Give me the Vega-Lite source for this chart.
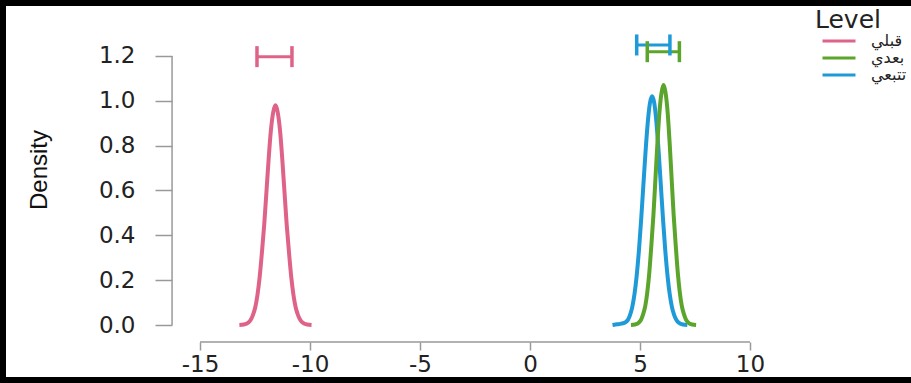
{
  "$schema": "https://vega.github.io/schema/vega-lite/v6.json",
  "width": 905,
  "height": 371,
  "autosize": {"type": "none"},
  "padding": {"left": 6, "top": 6, "right": 0, "bottom": 6},
  "background": "black",
  "config": {"view": {"fill": "white", "stroke": null}, "font": "DejaVu Sans"},
  "datasets": {
    "curves": [
      {"level": "قبلي", "x": -13.21, "density": 0.000},
      {"level": "قبلي", "x": -13.01, "density": 0.002},
      {"level": "قبلي", "x": -12.80, "density": 0.011},
      {"level": "قبلي", "x": -12.70, "density": 0.022},
      {"level": "قبلي", "x": -12.60, "density": 0.043},
      {"level": "قبلي", "x": -12.49, "density": 0.078},
      {"level": "قبلي", "x": -12.39, "density": 0.133},
      {"level": "قبلي", "x": -12.29, "density": 0.212},
      {"level": "قبلي", "x": -12.19, "density": 0.318},
      {"level": "قبلي", "x": -12.08, "density": 0.449},
      {"level": "قبلي", "x": -11.98, "density": 0.594},
      {"level": "قبلي", "x": -11.88, "density": 0.740},
      {"level": "قبلي", "x": -11.78, "density": 0.865},
      {"level": "قبلي", "x": -11.67, "density": 0.950},
      {"level": "قبلي", "x": -11.57, "density": 0.980},
      {"level": "قبلي", "x": -11.47, "density": 0.950},
      {"level": "قبلي", "x": -11.36, "density": 0.865},
      {"level": "قبلي", "x": -11.26, "density": 0.740},
      {"level": "قبلي", "x": -11.16, "density": 0.594},
      {"level": "قبلي", "x": -11.06, "density": 0.449},
      {"level": "قبلي", "x": -10.95, "density": 0.318},
      {"level": "قبلي", "x": -10.85, "density": 0.212},
      {"level": "قبلي", "x": -10.75, "density": 0.133},
      {"level": "قبلي", "x": -10.65, "density": 0.078},
      {"level": "قبلي", "x": -10.54, "density": 0.043},
      {"level": "قبلي", "x": -10.44, "density": 0.022},
      {"level": "قبلي", "x": -10.34, "density": 0.011},
      {"level": "قبلي", "x": -10.13, "density": 0.002},
      {"level": "قبلي", "x": -9.93, "density": 0.000},
      {"level": "تتبعي", "x": 3.75, "density": 0.000},
      {"level": "تتبعي", "x": 3.95, "density": 0.003},
      {"level": "تتبعي", "x": 4.15, "density": 0.006},
      {"level": "تتبعي", "x": 4.35, "density": 0.013},
      {"level": "تتبعي", "x": 4.45, "density": 0.023},
      {"level": "تتبعي", "x": 4.55, "density": 0.045},
      {"level": "تتبعي", "x": 4.65, "density": 0.081},
      {"level": "تتبعي", "x": 4.75, "density": 0.138},
      {"level": "تتبعي", "x": 4.85, "density": 0.221},
      {"level": "تتبعي", "x": 4.95, "density": 0.331},
      {"level": "تتبعي", "x": 5.05, "density": 0.467},
      {"level": "تتبعي", "x": 5.15, "density": 0.619},
      {"level": "تتبعي", "x": 5.25, "density": 0.770},
      {"level": "تتبعي", "x": 5.35, "density": 0.900},
      {"level": "تتبعي", "x": 5.45, "density": 0.989},
      {"level": "تتبعي", "x": 5.55, "density": 1.020},
      {"level": "تتبعي", "x": 5.65, "density": 0.989},
      {"level": "تتبعي", "x": 5.75, "density": 0.900},
      {"level": "تتبعي", "x": 5.85, "density": 0.770},
      {"level": "تتبعي", "x": 5.95, "density": 0.619},
      {"level": "تتبعي", "x": 6.05, "density": 0.467},
      {"level": "تتبعي", "x": 6.15, "density": 0.331},
      {"level": "تتبعي", "x": 6.25, "density": 0.221},
      {"level": "تتبعي", "x": 6.35, "density": 0.138},
      {"level": "تتبعي", "x": 6.45, "density": 0.081},
      {"level": "تتبعي", "x": 6.55, "density": 0.045},
      {"level": "تتبعي", "x": 6.65, "density": 0.023},
      {"level": "تتبعي", "x": 6.75, "density": 0.011},
      {"level": "تتبعي", "x": 6.95, "density": 0.002},
      {"level": "تتبعي", "x": 7.15, "density": 0.000},
      {"level": "بعدي", "x": 4.59, "density": 0.000},
      {"level": "بعدي", "x": 4.77, "density": 0.002},
      {"level": "بعدي", "x": 4.96, "density": 0.012},
      {"level": "بعدي", "x": 5.05, "density": 0.024},
      {"level": "بعدي", "x": 5.14, "density": 0.047},
      {"level": "بعدي", "x": 5.24, "density": 0.085},
      {"level": "بعدي", "x": 5.33, "density": 0.145},
      {"level": "بعدي", "x": 5.42, "density": 0.231},
      {"level": "بعدي", "x": 5.51, "density": 0.347},
      {"level": "بعدي", "x": 5.61, "density": 0.490},
      {"level": "بعدي", "x": 5.70, "density": 0.649},
      {"level": "بعدي", "x": 5.79, "density": 0.808},
      {"level": "بعدي", "x": 5.88, "density": 0.944},
      {"level": "بعدي", "x": 5.98, "density": 1.037},
      {"level": "بعدي", "x": 6.07, "density": 1.070},
      {"level": "بعدي", "x": 6.16, "density": 1.037},
      {"level": "بعدي", "x": 6.26, "density": 0.944},
      {"level": "بعدي", "x": 6.35, "density": 0.808},
      {"level": "بعدي", "x": 6.44, "density": 0.649},
      {"level": "بعدي", "x": 6.53, "density": 0.490},
      {"level": "بعدي", "x": 6.63, "density": 0.347},
      {"level": "بعدي", "x": 6.72, "density": 0.231},
      {"level": "بعدي", "x": 6.81, "density": 0.145},
      {"level": "بعدي", "x": 6.90, "density": 0.085},
      {"level": "بعدي", "x": 7.00, "density": 0.047},
      {"level": "بعدي", "x": 7.09, "density": 0.024},
      {"level": "بعدي", "x": 7.18, "density": 0.012},
      {"level": "بعدي", "x": 7.37, "density": 0.002},
      {"level": "بعدي", "x": 7.55, "density": 0.000}
    ],
    "intervals": [
      {"level": "قبلي", "lo": -12.41, "hi": -10.82, "y": 1.197},
      {"level": "تتبعي", "lo": 4.85, "hi": 6.36, "y": 1.249},
      {"level": "بعدي", "lo": 5.33, "hi": 6.79, "y": 1.219}
    ]
  },
  "layer": [
    {
      "data": {"name": "curves"},
      "mark": {"type": "line", "strokeWidth": 4, "interpolate": "monotone"},
      "encoding": {
        "x": {
          "field": "x", "type": "quantitative",
          "scale": {"domain": [-23.818, 17.318], "nice": false, "zero": false},
          "axis": {
            "values": [-15, -10, -5, 0, 5, 10],
            "labelExpr": "'' + datum.value",
            "domain": false, "grid": false, "offset": -35,
            "tickSize": 8, "tickColor": "#999999", "tickWidth": 1.5,
            "labelFont": "DejaVu Sans", "labelFontSize": 23, "labelColor": "#222222",
            "labelPadding": 3, "labelFlush": false, "labelOverlap": false,
            "title": ""
          }
        },
        "y": {
          "field": "density", "type": "quantitative",
          "scale": {"domain": [-0.2319, 1.4228], "nice": false, "zero": false},
          "axis": {
            "values": [0, 0.2, 0.4, 0.6, 0.8, 1.0, 1.2],
            "format": ".1f",
            "domain": false, "grid": false, "offset": -166,
            "tickSize": 17, "tickColor": "#999999", "tickWidth": 1.5,
            "labelFont": "DejaVu Sans", "labelFontSize": 23, "labelColor": "#222222",
            "labelPadding": 20, "labelFlush": false, "labelOverlap": false,
            "title": "Density",
            "titleFont": "Liberation Sans", "titleFontSize": 24, "titleFontWeight": "normal",
            "titleColor": "#111111", "titleAngle": -90, "titleAlign": "center",
            "titleBaseline": "alphabetic", "titleX": -126, "titleY": 163.5
          }
        },
        "color": {
          "field": "level", "type": "nominal",
          "scale": {"domain": ["قبلي", "بعدي", "تتبعي"], "range": ["#DF6388", "#5BA52C", "#1E9AD8"]},
          "legend": {
            "title": "Level", "orient": "none", "legendX": 809, "legendY": 2,
            "padding": 0,
            "titleFont": "DejaVu Sans", "titleFontSize": 25, "titleFontWeight": "normal",
            "titleColor": "#222222", "titlePadding": 0,
            "labelFont": "DejaVu Sans", "labelFontSize": 16, "labelColor": "#222222",
            "symbolType": "M-4,0H4", "symbolSize": 68, "symbolStrokeWidth": 3,
            "symbolOffset": 16, "labelOffset": 24, "rowPadding": 1
          }
        }
      }
    },
    {
      "data": {"name": "intervals"},
      "mark": {"type": "rule", "strokeWidth": 3},
      "encoding": {
        "x": {"field": "lo", "type": "quantitative", "scale": {"domain": [-23.818, 17.318], "nice": false, "zero": false}},
        "x2": {"field": "hi"},
        "y": {"field": "y", "type": "quantitative", "scale": {"domain": [-0.2319, 1.4228], "nice": false, "zero": false}},
        "color": {"field": "level", "type": "nominal", "scale": {"domain": ["قبلي", "بعدي", "تتبعي"], "range": ["#DF6388", "#5BA52C", "#1E9AD8"]}}
      }
    },
    {
      "data": {"name": "intervals"},
      "mark": {"type": "tick", "orient": "vertical", "thickness": 3.5, "size": 21, "opacity": 1},
      "encoding": {
        "x": {"field": "lo", "type": "quantitative", "scale": {"domain": [-23.818, 17.318], "nice": false, "zero": false}},
        "y": {"field": "y", "type": "quantitative", "scale": {"domain": [-0.2319, 1.4228], "nice": false, "zero": false}},
        "color": {"field": "level", "type": "nominal", "scale": {"domain": ["قبلي", "بعدي", "تتبعي"], "range": ["#DF6388", "#5BA52C", "#1E9AD8"]}}
      }
    },
    {
      "data": {"name": "intervals"},
      "mark": {"type": "tick", "orient": "vertical", "thickness": 3.5, "size": 21, "opacity": 1},
      "encoding": {
        "x": {"field": "hi", "type": "quantitative", "scale": {"domain": [-23.818, 17.318], "nice": false, "zero": false}},
        "y": {"field": "y", "type": "quantitative", "scale": {"domain": [-0.2319, 1.4228], "nice": false, "zero": false}},
        "color": {"field": "level", "type": "nominal", "scale": {"domain": ["قبلي", "بعدي", "تتبعي"], "range": ["#DF6388", "#5BA52C", "#1E9AD8"]}}
      }
    },
    {
      "data": {"values": [{}]},
      "mark": {"type": "rule", "color": "#999999", "strokeWidth": 1.5},
      "encoding": {
        "x": {"datum": -15, "type": "quantitative"},
        "x2": {"datum": 10},
        "y": {"datum": -0.0758, "type": "quantitative"}
      }
    },
    {
      "data": {"values": [{}]},
      "mark": {"type": "rule", "color": "#999999", "strokeWidth": 1.5},
      "encoding": {
        "x": {"datum": -16.27, "type": "quantitative"},
        "y": {"datum": 0, "type": "quantitative"},
        "y2": {"datum": 1.2}
      }
    }
  ]
}
